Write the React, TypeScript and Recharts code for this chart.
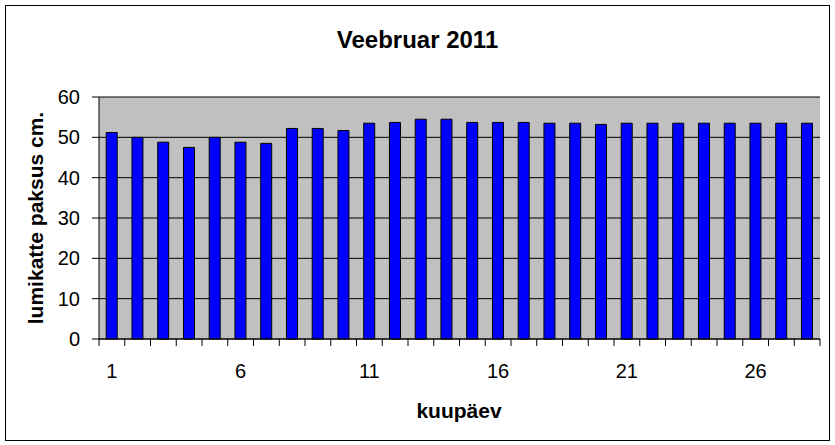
import React from 'react';
import { BarChart, Bar, XAxis, YAxis, CartesianGrid } from 'recharts';

const days = [
    '1', '2', '3', '4', '5', '6', '7', '8', '9', '10', '11', '12', '13', '14',
    '15', '16', '17', '18', '19', '20', '21', '22', '23', '24', '25', '26', '27', '28',
];
const snowDepth = [
    51.2, 50, 48.8, 47.5, 50, 48.8, 48.5, 52.2, 52.2, 51.7, 53.5, 53.7, 54.5, 54.5,
    53.7, 53.7, 53.7, 53.5, 53.5, 53.2, 53.5, 53.5, 53.5, 53.5, 53.5, 53.5, 53.5, 53.5,
];
const yTicks = [0, 10, 20, 30, 40, 50, 60];

const data = days.map((day, i) => ({ day, depth: snowDepth[i] }));

const W = 835;
const H = 445;
const xAxisHeight = 50;
const margin = { top: 97, right: 15, bottom: 106 - xAxisHeight, left: 0 };
const yAxisWidth = 99;
const band = (W - margin.left - margin.right - yAxisWidth) / days.length;
const font = 'Arial, "Liberation Sans", sans-serif';

// Excel-style category axis: tick marks between bars, label every 5th day
const DayTick = (props: any) => {
    const { x, y, payload, index } = props;
    const i = typeof index === 'number' ? index : payload.index;
    return (
        <g>
            <line x1={x - band / 2} x2={x - band / 2} y1={y} y2={y + 7} stroke="#000" />
            {i === days.length - 1 && (
                <line x1={x + band / 2} x2={x + band / 2} y1={y} y2={y + 7} stroke="#000" />
            )}
            {i % 5 === 0 && (
                <text x={x} y={y + 39} textAnchor="middle" fontSize={20} fontFamily={font} fill="#000">
                    {payload.value}
                </text>
            )}
        </g>
    );
};

export default function App() {
    return (
        <div style={{ position: 'absolute', left: 0, top: 0, width: W, height: H, background: '#fff', fontFamily: font }}>
            <div
                style={{
                    position: 'absolute', left: 5, top: 5, width: 825, height: 436,
                    boxSizing: 'border-box', border: '1px solid #000',
                }}
            />
            <div
                style={{
                    position: 'absolute', left: 0, top: 40, width: W, textAlign: 'center',
                    transform: 'translateY(-50%)', fontSize: 24, fontWeight: 'bold', lineHeight: 1,
                }}
            >
                Veebruar 2011
            </div>
            <div
                style={{
                    position: 'absolute', left: 35, top: 218, whiteSpace: 'nowrap',
                    transform: 'translate(-50%, -50%) rotate(-90deg)', fontSize: 21, fontWeight: 'bold', lineHeight: 1,
                }}
            >
                lumikatte paksus cm.
            </div>
            <div
                style={{
                    position: 'absolute', left: 459, top: 410, whiteSpace: 'nowrap',
                    transform: 'translate(-50%, -50%)', fontSize: 21, fontWeight: 'bold', lineHeight: 1,
                }}
            >
                kuupäev
            </div>
            <BarChart
                width={W}
                height={H}
                data={data}
                margin={margin}
                barCategoryGap="28%"
                style={{ position: 'absolute', left: 0, top: 0 }}
            >
                <CartesianGrid vertical={false} fill="#C0C0C0" fillOpacity={1} stroke="#000" />
                <XAxis
                    dataKey="day"
                    height={xAxisHeight}
                    interval={0}
                    tickLine={false}
                    tickSize={0}
                    tickMargin={0}
                    tick={<DayTick />}
                    axisLine={{ stroke: '#000' }}
                />
                <XAxis xAxisId="top" dataKey="day" orientation="top" height={0} tick={false} tickLine={false} axisLine={{ stroke: '#808080' }} />
                <YAxis
                    domain={[0, 60]}
                    ticks={yTicks}
                    width={yAxisWidth}
                    tickSize={7}
                    tickMargin={12}
                    axisLine={{ stroke: '#000' }}
                    tickLine={{ stroke: '#000' }}
                    tick={{ fill: '#000', fontSize: 20, fontFamily: font }}
                />
                <YAxis yAxisId="right" orientation="right" width={0} domain={[0, 60]} tick={false} tickLine={false} axisLine={{ stroke: '#808080' }} />
                <Bar dataKey="depth" fill="#0000FF" stroke="#000" strokeWidth={1} isAnimationActive={false} />
            </BarChart>
        </div>
    );
}
